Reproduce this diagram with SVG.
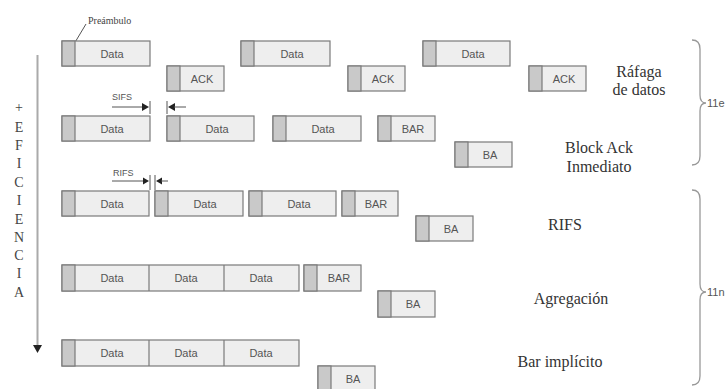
<svg xmlns="http://www.w3.org/2000/svg" width="728" height="389" viewBox="0 0 728 389">
<defs>
<style>
.bx{fill:#eeeeee;stroke:#7a7a7a;stroke-width:1.2}
.pr{fill:#c9c9c9;stroke:#7a7a7a;stroke-width:1.2}
.dv{stroke:#7a7a7a;stroke-width:1.2}
.t{font-family:"Liberation Sans",Arial,sans-serif;font-size:11px;fill:#555;text-anchor:middle}
.lb{font-family:"Liberation Serif","Times New Roman",serif;font-size:16px;fill:#333;text-anchor:middle}
.ef{font-family:"Liberation Serif","Times New Roman",serif;font-size:14px;fill:#444;text-anchor:middle}
.pa{font-family:"Liberation Serif","Times New Roman",serif;font-size:10px;fill:#444}
.sm{font-family:"Liberation Sans",Arial,sans-serif;font-size:9px;fill:#555}
.br-t{font-family:"Liberation Sans",Arial,sans-serif;font-size:11px;fill:#555}
.ln{stroke:#555;stroke-width:1;fill:none}
.hd{fill:#222}
.br{stroke:#999;stroke-width:1.3;fill:none}
</style>
</defs>
<rect width="728" height="389" fill="#fff"/>

<g id="eficiencia">
<line x1="37.5" y1="55" x2="37.5" y2="346" stroke="#aaa" stroke-width="2"/>
<polygon class="hd" points="33,345 42,345 37.5,353"/>
<text class="ef" x="19" y="112">+</text>
<text class="ef" x="19" y="132">E</text>
<text class="ef" x="19" y="150">F</text>
<text class="ef" x="19" y="168">I</text>
<text class="ef" x="19" y="187">C</text>
<text class="ef" x="19" y="205">I</text>
<text class="ef" x="19" y="224">E</text>
<text class="ef" x="19" y="242">N</text>
<text class="ef" x="19" y="260">C</text>
<text class="ef" x="19" y="278">I</text>
<text class="ef" x="19" y="297">A</text>
</g>

<g id="preambulo-label">
<text class="pa" x="88" y="24">Preámbulo</text>
<line class="ln" x1="86" y1="24" x2="74" y2="44" stroke="#666"/>
</g>

<g id="r1-data1"><rect class="bx" x="62" y="41" width="88" height="25"/><rect class="pr" x="62" y="41" width="13" height="25"/><text class="t" x="112" y="57.5">Data</text></g>
<g id="r1-ack1"><rect class="bx" x="167" y="66" width="57" height="25"/><rect class="pr" x="167" y="66" width="13" height="25"/><text class="t" x="202" y="82.5">ACK</text></g>
<g id="r1-data2"><rect class="bx" x="241" y="41" width="89" height="25"/><rect class="pr" x="241" y="41" width="13" height="25"/><text class="t" x="292" y="57.5">Data</text></g>
<g id="r1-ack2"><rect class="bx" x="348" y="66" width="57" height="25"/><rect class="pr" x="348" y="66" width="13" height="25"/><text class="t" x="383" y="82.5">ACK</text></g>
<g id="r1-data3"><rect class="bx" x="423" y="41" width="87" height="25"/><rect class="pr" x="423" y="41" width="13" height="25"/><text class="t" x="473" y="57.5">Data</text></g>
<g id="r1-ack3"><rect class="bx" x="529" y="66" width="57" height="25"/><rect class="pr" x="529" y="66" width="13" height="25"/><text class="t" x="564" y="82.5">ACK</text></g>
<g id="label-rafaga"><text class="lb" x="639" y="77">Ráfaga</text><text class="lb" x="639" y="95">de datos</text></g>

<g id="r2-data1"><rect class="bx" x="62" y="116" width="88" height="25"/><rect class="pr" x="62" y="116" width="13" height="25"/><text class="t" x="112" y="132.5">Data</text></g>
<g id="r2-data2"><rect class="bx" x="167" y="116" width="87" height="25"/><rect class="pr" x="167" y="116" width="13" height="25"/><text class="t" x="217" y="132.5">Data</text></g>
<g id="r2-data3"><rect class="bx" x="273" y="116" width="88" height="25"/><rect class="pr" x="273" y="116" width="13" height="25"/><text class="t" x="323" y="132.5">Data</text></g>
<g id="r2-bar"><rect class="bx" x="378" y="116" width="57" height="25"/><rect class="pr" x="378" y="116" width="13" height="25"/><text class="t" x="413" y="132.5">BAR</text></g>
<g id="r2-ba"><rect class="bx" x="455" y="142" width="57" height="25"/><rect class="pr" x="455" y="142" width="13" height="25"/><text class="t" x="490" y="158.5">BA</text></g>
<g id="label-blockack"><text class="lb" x="599" y="153">Block Ack</text><text class="lb" x="599" y="172">Inmediato</text></g>

<g id="r3-data1"><rect class="bx" x="62" y="191" width="87" height="25"/><rect class="pr" x="62" y="191" width="13" height="25"/><text class="t" x="112" y="207.5">Data</text></g>
<g id="r3-data2"><rect class="bx" x="155" y="191" width="88" height="25"/><rect class="pr" x="155" y="191" width="13" height="25"/><text class="t" x="205" y="207.5">Data</text></g>
<g id="r3-data3"><rect class="bx" x="249" y="191" width="87" height="25"/><rect class="pr" x="249" y="191" width="13" height="25"/><text class="t" x="299" y="207.5">Data</text></g>
<g id="r3-bar"><rect class="bx" x="342" y="191" width="56" height="25"/><rect class="pr" x="342" y="191" width="13" height="25"/><text class="t" x="376" y="207.5">BAR</text></g>
<g id="r3-ba"><rect class="bx" x="416" y="216" width="57" height="25"/><rect class="pr" x="416" y="216" width="13" height="25"/><text class="t" x="451" y="232.5">BA</text></g>
<g id="label-rifs"><text class="lb" x="565" y="230">RIFS</text></g>

<g id="r4-ampdu"><rect class="bx" x="62" y="265" width="237" height="26"/><rect class="pr" x="62" y="265" width="13" height="26"/><line class="dv" x1="149" y1="265" x2="149" y2="291"/><line class="dv" x1="224" y1="265" x2="224" y2="291"/><text class="t" x="112" y="282">Data</text><text class="t" x="186" y="282">Data</text><text class="t" x="261" y="282">Data</text></g>
<g id="r4-bar"><rect class="bx" x="304" y="265" width="57" height="26"/><rect class="pr" x="304" y="265" width="13" height="26"/><text class="t" x="339" y="282">BAR</text></g>
<g id="r4-ba"><rect class="bx" x="378" y="291" width="57" height="26"/><rect class="pr" x="378" y="291" width="13" height="26"/><text class="t" x="413" y="308">BA</text></g>
<g id="label-agregacion"><text class="lb" x="571" y="304">Agregación</text></g>

<g id="r5-ampdu"><rect class="bx" x="62" y="340" width="237" height="26"/><rect class="pr" x="62" y="340" width="13" height="26"/><line class="dv" x1="149" y1="340" x2="149" y2="366"/><line class="dv" x1="224" y1="340" x2="224" y2="366"/><text class="t" x="112" y="357">Data</text><text class="t" x="186" y="357">Data</text><text class="t" x="261" y="357">Data</text></g>
<g id="r5-ba"><rect class="bx" x="318" y="366" width="57" height="26"/><rect class="pr" x="318" y="366" width="13" height="26"/><text class="t" x="353" y="383">BA</text></g>
<g id="label-barimplicito"><text class="lb" x="560" y="367">Bar implícito</text></g>

<g id="connectors">
<text class="sm" x="112" y="100">SIFS</text>
<line class="ln" x1="112" y1="107" x2="143" y2="107"/>
<polygon class="hd" points="142,103 142,111 149,107"/>
<line class="ln" x1="150" y1="101" x2="150" y2="114"/>
<line class="ln" x1="167" y1="101" x2="167" y2="114"/>
<polygon class="hd" points="175,103 175,111 168,107"/>
<line class="ln" x1="174" y1="107" x2="186" y2="107"/>
<text class="sm" x="113" y="176">RIFS</text>
<line class="ln" x1="112" y1="181" x2="143" y2="181"/>
<polygon class="hd" points="143,177.5 143,184.5 149,181"/>
<line class="ln" x1="150" y1="175" x2="150" y2="190"/>
<line class="ln" x1="155" y1="175" x2="155" y2="190"/>
<polygon class="hd" points="162,177.5 162,184.5 156,181"/>
<line class="ln" x1="161" y1="181" x2="168" y2="181"/>
<path class="br" d="M692,40 Q700,40 700,49 L700,95 Q700,103 706,103 Q700,103 700,111 L700,156 Q700,165 692,165"/>
<text class="br-t" x="707" y="107">11e</text>
<path class="br" d="M692,190 Q700,190 700,199 L700,284 Q700,292 706,292 Q700,292 700,300 L700,376 Q700,385 692,385"/>
<text class="br-t" x="707" y="296">11n</text>
</g>
</svg>
